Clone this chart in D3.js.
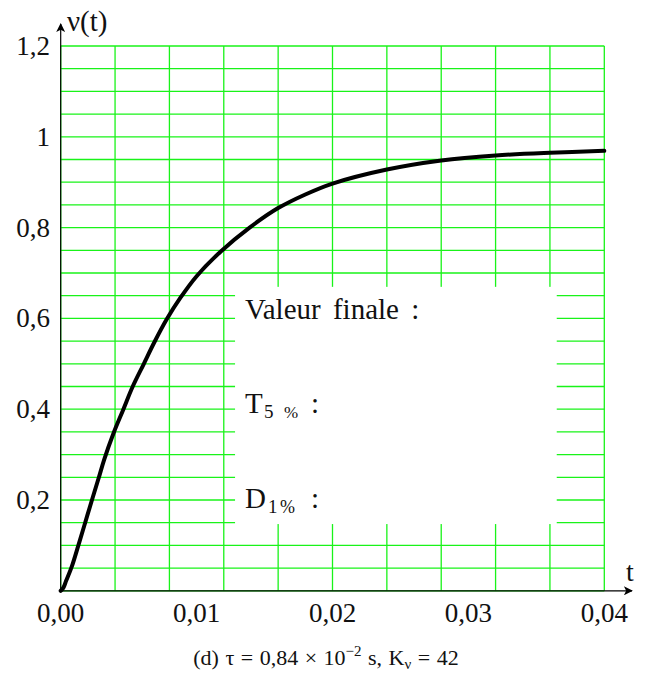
<!DOCTYPE html>
<html>
<head>
<meta charset="utf-8">
<script src="https://cdn.jsdelivr.net/npm/d3@7"></script>
<style>
  body { margin: 0; background: #fff; }
  text { font-family: "Liberation Serif", "DejaVu Serif", serif; fill: #111; }
</style>
</head>
<body>
<div id="chart"></div>
<script>

// values
var tData = [0, 0.0002, 0.0004, 0.0008, 0.0013, 0.0018, 0.0023, 0.0028, 0.0032, 0.0039, 0.0046,
             0.0053, 0.0061, 0.0069, 0.0078, 0.0088, 0.0100, 0.0118, 0.0139, 0.0160, 0.0180,
             0.0200, 0.0240, 0.0280, 0.0320, 0.0360, 0.0400];
var vData = [0, 0.007, 0.022, 0.052, 0.100, 0.150, 0.200, 0.249, 0.289, 0.348, 0.399,
             0.450, 0.499, 0.548, 0.598, 0.645, 0.693, 0.748, 0.800, 0.843, 0.873,
             0.897, 0.928, 0.948, 0.959, 0.965, 0.969];

var xTicks = [0, 0.01, 0.02, 0.03, 0.04];
var xTickLabels = ["0,00", "0,01", "0,02", "0,03", "0,04"];
var yTicks = [0.2, 0.4, 0.6, 0.8, 1, 1.2];
var yTickLabels = ["0,2", "0,4", "0,6", "0,8", "1", "1,2"];

var xGrid = d3.range(0, 11).map(function(i){ return i * 0.004; });
var yGrid = d3.range(0, 25).map(function(i){ return i * 0.05; });

var W = 653, H = 675;

var X = d3.scaleLinear().domain([0, 0.04]).range([60.7, 604.3]),
	Y = d3.scaleLinear().domain([0, 1.2]).range([590.8, 46]);

// white box holding the answer text
var box = {t0: 0.01283, t1: 0.0365, v0: 0.147, v1: 0.6695};

var svg = d3.select("#chart").append("svg")
	.attr("width", W).attr("height", H);

var defs = svg.append("defs");
defs.append("marker").attr("id", "arr")
	.attr("viewBox", "0 0 10 10").attr("refX", 9).attr("refY", 5)
	.attr("markerWidth", 10).attr("markerHeight", 9)
	.attr("markerUnits", "userSpaceOnUse")
	.attr("orient", "auto")
	.append("path").attr("d", "M0,0 L10,5 L0,10 L2.5,5 Z").style("fill", "#000");

var grid = svg.append("g").attr("class", "grid")
	.style("stroke", "#19f319").style("stroke-width", 1.3);

grid.selectAll(".gx").data(xGrid).enter().append("line")
	.attr("class", "gx")
	.attr("x1", function(d){ return X(d); }).attr("x2", function(d){ return X(d); })
	.attr("y1", Y(0)).attr("y2", Y(1.2));

grid.selectAll(".gy").data(yGrid).enter().append("line")
	.attr("class", "gy")
	.attr("x1", X(0)).attr("x2", X(0.04))
	.attr("y1", function(d){ return Y(d); }).attr("y2", function(d){ return Y(d); });

svg.append("rect")
	.attr("x", X(box.t0)).attr("y", Y(box.v1))
	.attr("width", X(box.t1) - X(box.t0))
	.attr("height", Y(box.v0) - Y(box.v1))
	.style("fill", "#fff");

// axes
svg.append("line")
	.attr("x1", X(0)).attr("y1", Y(0)).attr("x2", X(0)).attr("y2", 24)
	.style("stroke", "#000").style("stroke-width", 1.2)
	.attr("marker-end", "url(#arr)");
svg.append("line")
	.attr("x1", X(0)).attr("y1", Y(0)).attr("x2", 632).attr("y2", Y(0))
	.style("stroke", "#000").style("stroke-width", 1.2)
	.attr("marker-end", "url(#arr)");

svg.selectAll(".xl").data(xTicks).enter().append("text")
	.attr("class", "xl")
	.attr("x", function(d){ return X(d); })
	.attr("y", 622)
	.attr("text-anchor", "middle")
	.style("font-size", "27px")
	.text(function(d, i){ return xTickLabels[i]; });

svg.selectAll(".yl").data(yTicks).enter().append("text")
	.attr("class", "yl")
	.attr("x", 50)
	.attr("y", function(d){ return Y(d) + 9; })
	.attr("text-anchor", "end")
	.style("font-size", "27px")
	.text(function(d, i){ return yTickLabels[i]; });

svg.append("text").attr("x", 626).attr("y", 581)
	.style("font-size", "28px").text("t");
svg.append("text").attr("x", 67).attr("y", 31)
	.style("font-size", "29px").text("ν(t)");

// response curve
var line = d3.line()
	.x(function(d, i){ return X(tData[i]); })
	.y(function(d){ return Y(d); })
	.curve(d3.curveCatmullRom.alpha(0.5));

svg.append("path").datum(vData)
	.attr("d", line)
	.style("fill", "none").style("stroke", "#000")
	.style("stroke-width", 4).style("stroke-linecap", "round");

// text inside the box
var tx = 245;
svg.append("text").attr("x", tx).attr("y", 319)
	.style("font-size", "29px").style("word-spacing", "5px").text("Valeur finale :");

var t5 = svg.append("text").attr("x", tx).attr("y", 413).style("font-size", "29px");
t5.append("tspan").text("T");
t5.append("tspan").attr("x", 264).attr("dy", 5).style("font-size", "19px").text("5");
t5.append("tspan").attr("x", 284).style("font-size", "17px").text("%");
t5.append("tspan").attr("x", 311).attr("dy", -5).text(":");

var d1 = svg.append("text").attr("x", tx).attr("y", 508).style("font-size", "29px");
d1.append("tspan").text("D");
d1.append("tspan").attr("x", 268).attr("dy", 5).style("font-size", "19px").text("1");
d1.append("tspan").attr("x", 280).style("font-size", "18px").text("%");
d1.append("tspan").attr("x", 311).attr("dy", -5).text(":");

// caption
var cap = svg.append("text").attr("x", 326).attr("y", 665)
	.attr("text-anchor", "middle").style("font-size", "22px")
	.style("word-spacing", "1px");
cap.append("tspan").text("(d) τ = 0,84 × 10");
cap.append("tspan").attr("dy", -9).style("font-size", "15px").text("−2");
cap.append("tspan").attr("dy", 9).text(" s, K");
cap.append("tspan").attr("dy", 4).style("font-size", "15px").text("ν");
cap.append("tspan").attr("dy", -4).text(" = 42");

</script>
</body>
</html>
